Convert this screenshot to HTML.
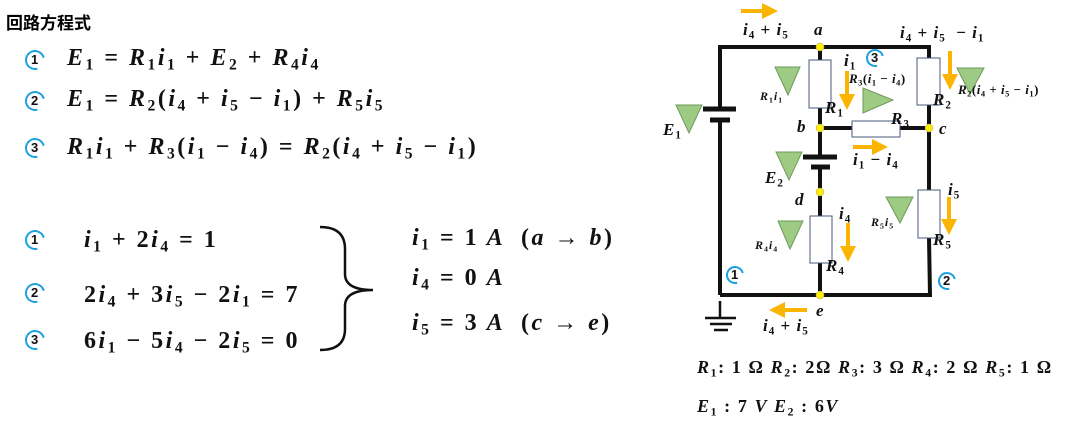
<!DOCTYPE html>
<html><head><meta charset="utf-8"><style>
body{margin:0;width:1070px;height:439px;background:#fff;position:relative;overflow:hidden;font-family:"Liberation Serif",serif;}
.m{position:absolute;font-family:"Liberation Serif",serif;font-weight:bold;font-style:italic;white-space:nowrap;color:#111;line-height:1;letter-spacing:1px;}
.m sub{font-size:65%;vertical-align:-0.3em;font-style:normal;}
.b{font-size:24px;letter-spacing:2.5px;}
.n{font-style:normal;}
.t{position:absolute;font-family:"Liberation Sans","Noto Sans CJK JP",sans-serif;font-weight:bold;font-size:17px;}
.lp{position:absolute;width:16px;height:16px;border:2.5px solid #1aa0e0;border-radius:50%;font:bold 13px "Liberation Sans",sans-serif;text-align:center;line-height:16px;color:#111;border-right-color:transparent;transform:rotate(30deg);}
.lp span{display:inline-block;transform:rotate(-30deg);}
</style></head><body>
<div class="t" style="left:6px;top:9px">回路方程式</div>

<div class="lp" style="left:25px;top:50px"><span>1</span></div>
<div class="m b" style="left:67px;top:46px">E<sub>1</sub> <span class="n">=</span> R<sub>1</sub>i<sub>1</sub> <span class="n">+</span> E<sub>2</sub> <span class="n">+</span> R<sub>4</sub>i<sub>4</sub></div>
<div class="lp" style="left:25px;top:91px"><span>2</span></div>
<div class="m b" style="left:67px;top:87px">E<sub>1</sub> <span class="n">=</span> R<sub>2</sub><span class="n">(</span>i<sub>4</sub> <span class="n">+</span> i<sub>5</sub> <span class="n">−</span> i<sub>1</sub><span class="n">)</span> <span class="n">+</span> R<sub>5</sub>i<sub>5</sub></div>
<div class="lp" style="left:25px;top:138px"><span>3</span></div>
<div class="m b" style="left:67px;top:135px">R<sub>1</sub>i<sub>1</sub> <span class="n">+</span> R<sub>3</sub><span class="n">(</span>i<sub>1</sub> <span class="n">−</span> i<sub>4</sub><span class="n">)</span> <span class="n">=</span> R<sub>2</sub><span class="n">(</span>i<sub>4</sub> <span class="n">+</span> i<sub>5</sub> <span class="n">−</span> i<sub>1</sub><span class="n">)</span></div>

<div class="lp" style="left:25px;top:230px"><span>1</span></div>
<div class="m b" style="left:84px;top:228px">i<sub>1</sub> <span class="n">+</span> <span class="n">2</span>i<sub>4</sub> <span class="n">= 1</span></div>
<div class="lp" style="left:25px;top:283px"><span>2</span></div>
<div class="m b" style="left:84px;top:283px"><span class="n">2</span>i<sub>4</sub> <span class="n">+ 3</span>i<sub>5</sub> <span class="n">− 2</span>i<sub>1</sub> <span class="n">= 7</span></div>
<div class="lp" style="left:25px;top:330px"><span>3</span></div>
<div class="m b" style="left:84px;top:329px"><span class="n">6</span>i<sub>1</sub> <span class="n">− 5</span>i<sub>4</sub> <span class="n">− 2</span>i<sub>5</sub> <span class="n">= 0</span></div>

<svg style="position:absolute;left:315px;top:224px" width="70" height="130"><path d="M5 3 Q30 3 30 25 L30 50 Q30 66 58 66 Q30 66 30 82 L30 105 Q30 126 5 126" fill="none" stroke="#111" stroke-width="2.5"/></svg>

<div class="m b" style="left:412px;top:226px">i<sub>1</sub> <span class="n">= 1</span> A &nbsp;<span class="n">(</span>a <span class="n">→</span> b<span class="n">)</span></div>
<div class="m b" style="left:412px;top:266px">i<sub>4</sub> <span class="n">= 0</span> A</div>
<div class="m b" style="left:412px;top:311px">i<sub>5</sub> <span class="n">= 3</span> A &nbsp;<span class="n">(</span>c <span class="n">→</span> e<span class="n">)</span></div>

<svg style="position:absolute;left:0;top:0" width="1070" height="439">
<defs><marker id="ah" markerWidth="4" markerHeight="4" refX="2" refY="2" orient="auto" markerUnits="strokeWidth"><path d="M0,0 L4,2 L0,4z" fill="#fbb400"/></marker></defs>
<g stroke="#111" stroke-width="4" fill="none">
<polyline points="720,109 720,47 929,47 929,58"/>
<line x1="720" y1="120" x2="720" y2="295"/>
<polyline points="720,295 930,295 929,238"/>
<line x1="929" y1="105" x2="929" y2="190"/>
<line x1="820" y1="47" x2="820" y2="60"/>
<line x1="820" y1="108" x2="820" y2="157"/>
<line x1="820" y1="166" x2="820" y2="216"/>
<line x1="820" y1="263" x2="820" y2="295"/>
<line x1="820" y1="128" x2="852" y2="128"/>
<line x1="900" y1="128" x2="929" y2="128"/>
</g>
<g stroke="#111" stroke-width="5">
<line x1="703" y1="109" x2="736" y2="109"/><line x1="710" y1="120" x2="730" y2="120"/>
<line x1="803" y1="157" x2="837" y2="157"/><line x1="811" y1="167" x2="830" y2="167"/>
</g>
<g fill="#fff" stroke="#445a7a" stroke-width="1">
<rect x="809" y="60" width="22" height="48"/><rect x="917" y="58" width="23" height="47"/>
<rect x="852" y="121" width="48" height="16"/><rect x="918" y="190" width="22" height="48"/>
<rect x="810" y="216" width="22" height="47"/>
</g>
<g fill="#ffee00" stroke="#999" stroke-width="0.5">
<circle cx="820" cy="47" r="4"/><circle cx="820" cy="128" r="4"/><circle cx="929" cy="128" r="4"/>
<circle cx="820" cy="192" r="4"/><circle cx="820" cy="295" r="4"/>
</g>
<g fill="#9ecb84" stroke="#6e9a5e" stroke-width="1">
<polygon points="775,67 800,67 788,95"/><polygon points="676,105 702,105 689,133"/>
<polygon points="776,152 802,152 789,180"/><polygon points="778,221 803,221 790,249"/>
<polygon points="886,197 913,197 900,223"/><polygon points="957,68 984,68 970,94"/>
<polygon points="863,88 863,113 893,100"/>
</g>
<g stroke="#fbb400" stroke-width="4" fill="none" marker-end="url(#ah)">
<line x1="741" y1="11" x2="770" y2="11"/>
<line x1="847" y1="71" x2="847" y2="102"/>
<line x1="950" y1="51" x2="950" y2="82"/>
<line x1="853" y1="147" x2="880" y2="147"/>
<line x1="848" y1="223" x2="848" y2="254"/>
<line x1="949" y1="197" x2="949" y2="227"/>
<line x1="807" y1="310" x2="777" y2="310"/>
</g>
<g stroke="#111" stroke-width="2.5"><line x1="720" y1="301" x2="720" y2="318"/><line x1="705" y1="318" x2="736" y2="318"/><line x1="710" y1="324" x2="732" y2="324"/><line x1="714" y1="330" x2="728" y2="330"/></g>
</svg>

<div class="m" style="left:743px;top:21px;font-size:17px">i<sub>4</sub> <span class="n">+</span> i<sub>5</sub></div>
<div class="m" style="left:814px;top:21px;font-size:17px">a</div>
<div class="m" style="left:900px;top:24px;font-size:17px">i<sub>4</sub> <span class="n">+</span> i<sub>5</sub> &nbsp;<span class="n">−</span> i<sub>1</sub></div>
<div class="m" style="left:844px;top:52px;font-size:17px">i<sub>1</sub></div>
<div class="lp" style="left:866px;top:49px;width:14px;height:14px;line-height:14px"><span>3</span></div>
<div class="m" style="left:849px;top:72px;font-size:13px;letter-spacing:0.5px">R<sub>3</sub><span class="n">(</span>i<sub>1</sub> <span class="n">−</span> i<sub>4</sub><span class="n">)</span></div>
<div class="m" style="left:760px;top:90px;font-size:12px">R<sub>1</sub>i<sub>1</sub></div>
<div class="m" style="left:825px;top:99px;font-size:17px">R<sub>1</sub></div>
<div class="m" style="left:933px;top:91px;font-size:17px">R<sub>2</sub></div>
<div class="m" style="left:958px;top:83px;font-size:13px;letter-spacing:0.5px">R<sub>2</sub><span class="n">(</span>i<sub>4</sub> <span class="n">+</span> i<sub>5</sub> <span class="n">−</span> i<sub>1</sub><span class="n">)</span></div>
<div class="m" style="left:891px;top:110px;font-size:17px">R<sub>3</sub></div>
<div class="m" style="left:797px;top:118px;font-size:17px">b</div>
<div class="m" style="left:939px;top:120px;font-size:17px">c</div>
<div class="m" style="left:663px;top:121px;font-size:17px">E<sub>1</sub></div>
<div class="m" style="left:853px;top:151px;font-size:17px">i<sub>1</sub> <span class="n">−</span> i<sub>4</sub></div>
<div class="m" style="left:765px;top:169px;font-size:17px">E<sub>2</sub></div>
<div class="m" style="left:795px;top:191px;font-size:17px">d</div>
<div class="m" style="left:948px;top:181px;font-size:17px">i<sub>5</sub></div>
<div class="m" style="left:839px;top:205px;font-size:17px">i<sub>4</sub></div>
<div class="m" style="left:871px;top:216px;font-size:12px">R<sub>5</sub>i<sub>5</sub></div>
<div class="m" style="left:933px;top:231px;font-size:17px">R<sub>5</sub></div>
<div class="m" style="left:755px;top:239px;font-size:12px">R<sub>4</sub>i<sub>4</sub></div>
<div class="m" style="left:826px;top:257px;font-size:17px">R<sub>4</sub></div>
<div class="lp" style="left:726px;top:266px;width:14px;height:14px;line-height:14px"><span>1</span></div>
<div class="lp" style="left:938px;top:272px;width:14px;height:14px;line-height:14px"><span>2</span></div>
<div class="m" style="left:816px;top:302px;font-size:17px">e</div>
<div class="m" style="left:763px;top:317px;font-size:17px">i<sub>4</sub> <span class="n">+</span> i<sub>5</sub></div>
<div class="m" style="left:697px;top:358px;font-size:18px;letter-spacing:1.6px">R<sub>1</sub><span class="n">: 1 Ω</span> R<sub>2</sub><span class="n">: 2Ω</span> R<sub>3</sub><span class="n">: 3 Ω</span> R<sub>4</sub><span class="n">: 2 Ω</span> R<sub>5</sub><span class="n">: 1 Ω</span></div>
<div class="m" style="left:697px;top:397px;font-size:18px;letter-spacing:1.6px">E<sub>1</sub> <span class="n">: 7</span> V E<sub>2</sub> <span class="n">: 6</span>V</div>
</body></html>
